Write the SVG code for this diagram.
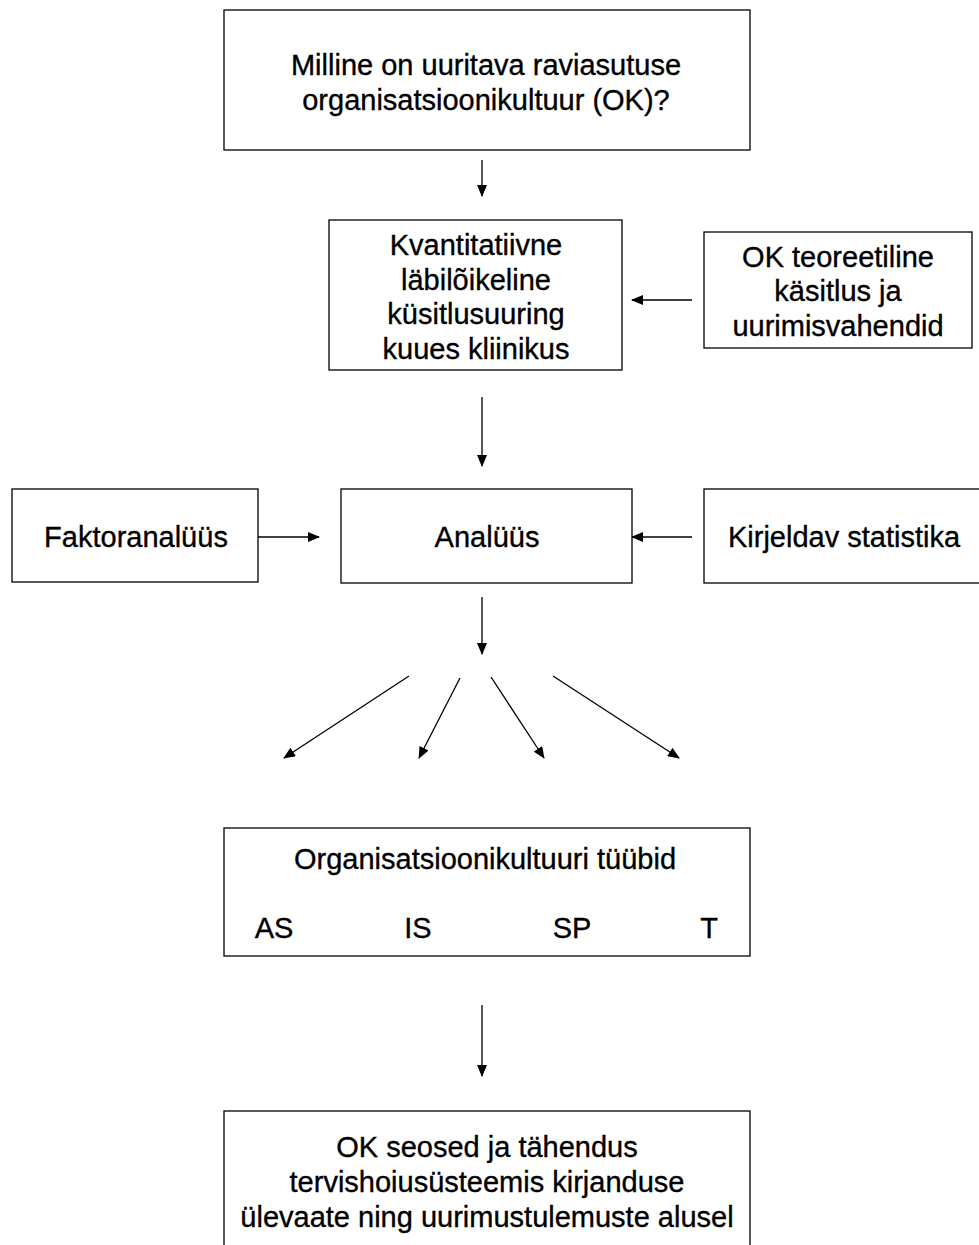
<svg xmlns="http://www.w3.org/2000/svg" width="979" height="1245" viewBox="0 0 979 1245">
<style>
.box{fill:#fff;stroke:#000;stroke-width:1.3}
.t{font-family:"Liberation Sans",Arial,sans-serif;font-size:29px;fill:#000;stroke:#000;stroke-width:0.35;text-anchor:middle}
.c{stroke:#000;stroke-width:1.3;fill:none;marker-end:url(#ah)}
</style>
<defs>
<marker id="ah" markerWidth="12" markerHeight="10" refX="11" refY="5" orient="auto" markerUnits="userSpaceOnUse">
<path d="M0,0 L12,5 L0,10 Z" fill="#000"/>
</marker>
</defs>
<rect width="979" height="1245" fill="#fff"/>
<g id="connectors">
<line class="c" x1="482" y1="160" x2="482" y2="196"/>
<line class="c" x1="692" y1="300" x2="632" y2="300"/>
<line class="c" x1="482" y1="397" x2="482" y2="466"/>
<line class="c" x1="258" y1="537" x2="319" y2="537"/>
<line class="c" x1="692" y1="537" x2="632" y2="537"/>
<line class="c" x1="482" y1="597" x2="482" y2="654"/>
<line class="c" x1="409" y1="676" x2="284" y2="758"/>
<line class="c" x1="460" y1="678" x2="419" y2="758"/>
<line class="c" x1="491" y1="677" x2="544" y2="758"/>
<line class="c" x1="553" y1="676" x2="679" y2="758"/>
<line class="c" x1="482" y1="1005" x2="482" y2="1076"/>
</g>
<g id="n1">
<rect class="box" x="224" y="10" width="526" height="140"/>
<text class="t" x="486" y="75">Milline on uuritava raviasutuse</text>
<text class="t" x="486" y="110">organisatsioonikultuur (OK)?</text>
</g>
<g id="n2">
<rect class="box" x="329" y="220" width="293" height="150"/>
<text class="t" x="476" y="255">Kvantitatiivne</text>
<text class="t" x="476" y="290">läbilõikeline</text>
<text class="t" x="476" y="324">küsitlusuuring</text>
<text class="t" x="476" y="359">kuues kliinikus</text>
</g>
<g id="n3">
<rect class="box" x="704" y="232" width="268" height="116"/>
<text class="t" x="838" y="267">OK teoreetiline</text>
<text class="t" x="838" y="301">käsitlus ja</text>
<text class="t" x="838" y="336">uurimisvahendid</text>
</g>
<g id="n4">
<rect class="box" x="12" y="489" width="246" height="93"/>
<text class="t" x="136" y="547">Faktoranalüüs</text>
</g>
<g id="n5">
<rect class="box" x="341" y="489" width="291" height="94"/>
<text class="t" x="487" y="547">Analüüs</text>
</g>
<g id="n6">
<rect class="box" x="704" y="489" width="280" height="94"/>
<text class="t" x="844" y="547">Kirjeldav statistika</text>
</g>
<g id="n7">
<rect class="box" x="224" y="828" width="526" height="128"/>
<text class="t" x="485" y="869">Organisatsioonikultuuri tüübid</text>
<text class="t" x="274" y="938">AS</text>
<text class="t" x="418" y="938">IS</text>
<text class="t" x="572" y="938">SP</text>
<text class="t" x="709" y="938">T</text>
</g>
<g id="n8">
<rect class="box" x="224" y="1111" width="526" height="150"/>
<text class="t" x="487" y="1157">OK seosed ja tähendus</text>
<text class="t" x="487" y="1192">tervishoiusüsteemis kirjanduse</text>
<text class="t" x="487" y="1227">ülevaate ning uurimustulemuste alusel</text>
</g>
</svg>
